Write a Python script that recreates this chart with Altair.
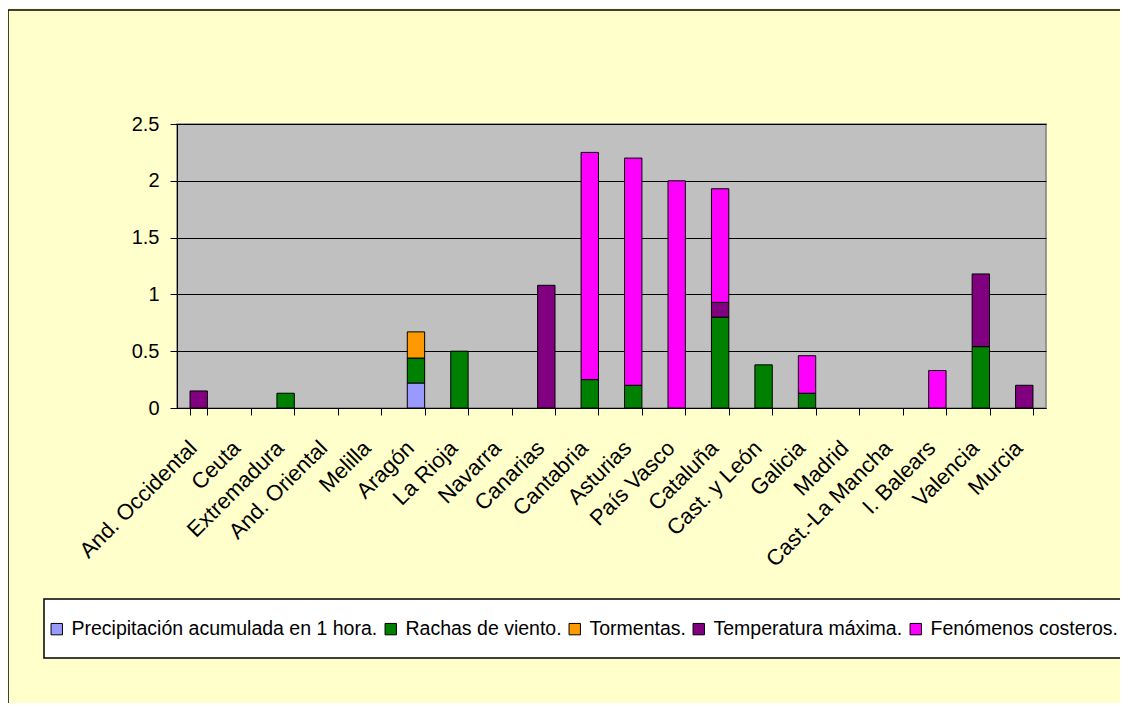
import altair as alt
import pandas as pd

regions = ["And. Occidental", "Ceuta", "Extremadura", "And. Oriental", "Melilla",
           "Aragón", "La Rioja", "Navarra", "Canarias", "Cantabria", "Asturias",
           "País Vasco", "Cataluña", "Cast. y León", "Galicia", "Madrid",
           "Cast.-La Mancha", "I. Balears", "Valencia", "Murcia"]
series = ["Precipitación acumulada en 1 hora.", "Rachas de viento.", "Tormentas.",
          "Temperatura máxima.", "Fenómenos costeros."]
colors = ["#9999FF", "#008000", "#FF9900", "#800080", "#FF00FF"]

precip    = [0, 0, 0, 0, 0, 0.22, 0, 0, 0, 0, 0, 0, 0, 0, 0, 0, 0, 0, 0, 0]
rachas    = [0, 0, 0.13, 0, 0, 0.22, 0.5, 0, 0, 0.25, 0.2, 0, 0.8, 0.38, 0.13, 0, 0, 0, 0.54, 0]
tormentas = [0, 0, 0, 0, 0, 0.23, 0, 0, 0, 0, 0, 0, 0, 0, 0, 0, 0, 0, 0, 0]
temp_max  = [0.15, 0, 0, 0, 0, 0, 0, 0, 1.08, 0, 0, 0, 0.13, 0, 0, 0, 0, 0, 0.64, 0.2]
costeros  = [0, 0, 0, 0, 0, 0, 0, 0, 0, 2.0, 2.0, 2.0, 1.0, 0, 0.33, 0, 0, 0.33, 0, 0]

all_series = [precip, rachas, tormentas, temp_max, costeros]
rows = []
for si, (name, vals) in enumerate(zip(series, all_series)):
    for r, v in zip(regions, vals):
        if v > 0:
            rows.append({"region": r, "series": name, "idx": si, "value": v})
df = pd.DataFrame(rows)

FONT = "Liberation Sans"
one = pd.DataFrame({"a": [0]})

# decorative outer frame of the chart (left and top edges are visible)
frame_left = alt.Chart(one).mark_rule(color="black", strokeWidth=1.5).encode(
    x=alt.value(-169), y=alt.value(-114), y2=alt.value(900)
)
frame_top = alt.Chart(one).mark_rule(color="black", strokeWidth=1.5).encode(
    x=alt.value(-169), x2=alt.value(1300), y=alt.value(-114)
)

# decorative legend box
legend_box = alt.Chart(one).mark_rect(
    fill="white", stroke="black", strokeWidth=1.5
).encode(
    x=alt.value(-133), x2=alt.value(950), y=alt.value(475), y2=alt.value(534)
)

bars = alt.Chart(df).mark_bar(stroke="black", strokeWidth=1).encode(
    x=alt.X("region:N", sort=regions,
            scale=alt.Scale(domain=regions, paddingInner=0.6, paddingOuter=0.3),
            axis=alt.Axis(title=None, labelAngle=-45, labelAlign="right",
                          labelBaseline="top", tickBand="extent", grid=False,
                          domainColor="black", tickColor="black", tickSize=7,
                          labelFont=FONT, labelFontSize=22, labelColor="black",
                          labelPadding=22, labelOffset=-13, labelLimit=400)),
    y=alt.Y("value:Q", stack="zero",
            scale=alt.Scale(domain=[0, 2.5], nice=False),
            axis=alt.Axis(title=None, values=[0, 0.5, 1, 1.5, 2, 2.5], format="~g",
                          domainColor="black", tickColor="black", tickSize=7,
                          gridColor="black", gridOpacity=1, grid=True,
                          labelFont=FONT, labelFontSize=20, labelColor="black",
                          labelPadding=11)),
    color=alt.Color("series:N", scale=alt.Scale(domain=series, range=colors),
                    legend=alt.Legend(title=None, orient="none", legendX=-130, legendY=495,
                                      direction="horizontal", columns=5, padding=0,
                                      symbolType="square", symbolSize=130,
                                      symbolStrokeColor="black", symbolStrokeWidth=1,
                                      symbolOpacity=1,
                                      labelFont=FONT, labelFontSize=19.5, labelColor="black",
                                      labelLimit=500, columnPadding=3, labelOffset=5)),
    order=alt.Order("idx:Q", sort="ascending"),
)

chart = alt.layer(frame_left, frame_top, legend_box, bars).properties(
    width=869, height=284,
    autosize=alt.AutoSizeParams(type="none"),
    padding={"left": 169, "top": 116, "right": 74, "bottom": 295},
    background="#FFFFCC",
).configure_view(fill="#C0C0C0", stroke="#808080", strokeWidth=1.5)

chart.save("out.html", embed_options={"renderer": "svg", "actions": False})
